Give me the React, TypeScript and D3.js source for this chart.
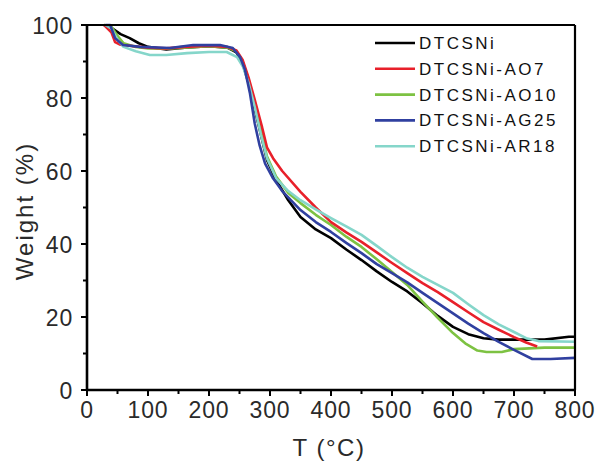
import React from "react";
import * as d3 from "d3";

const seriesNames = ["DTCSNi", "DTCSNi-AO7", "DTCSNi-AO10", "DTCSNi-AG25", "DTCSNi-AR18"];
const seriesColors = ["#000000", "#e8202a", "#7dc242", "#3040a0", "#85d6ca"];

const tBlack = [28, 40, 55, 70, 85, 100, 130, 160, 200, 230, 245, 255, 265, 275, 285, 295, 310, 330, 350, 375, 400, 425, 450, 475, 500, 525, 550, 575, 600, 625, 650, 675, 700, 750, 790, 800];
const wBlack = [100, 99.2, 97.5, 96.4, 95, 94, 93.3, 93.8, 94.2, 93.8, 92.5, 89.5, 84, 77, 70, 63, 57.5, 52, 47.4, 44, 41.6, 38.5, 35.6, 32.5, 29.6, 27, 23.8, 20.3, 17.3, 15.3, 14.2, 13.8, 13.8, 13.8, 14.6, 14.6];

const tRed = [28, 40, 46, 55, 70, 100, 130, 160, 200, 230, 245, 255, 265, 275, 287, 295, 305, 320, 350, 375, 400, 425, 450, 475, 500, 525, 550, 575, 600, 625, 650, 675, 700, 720, 738];
const wRed = [100, 98, 95.3, 94.6, 94.3, 93.8, 93.6, 94, 94.3, 94, 93, 90.5, 85.5, 79.5, 72, 66.5, 63.5, 60, 54.3, 50, 46, 43.2, 40.6, 37.7, 34.8, 32, 29.3, 26.8, 24.1, 21.3, 18.6, 16.5, 14.5, 13, 11.9];

const tGreen = [28, 40, 50, 60, 80, 100, 130, 160, 200, 230, 245, 255, 265, 275, 285, 295, 310, 330, 350, 375, 400, 425, 450, 475, 500, 525, 550, 575, 600, 620, 640, 655, 680, 700, 750, 800];
const wGreen = [100, 99.5, 97, 95, 94, 93.6, 93.5, 93.8, 94.2, 93.8, 92.8, 90, 85, 78, 71, 64, 58.5, 54, 51.2, 48, 45.2, 42, 39.2, 35.8, 32.3, 28.8, 24.2, 19.8, 15.6, 12.8, 10.8, 10.4, 10.4, 11.2, 11.6, 11.6];

const tBlue = [30, 38, 46, 59, 87, 136, 174, 218, 239, 251, 259, 267, 275, 283, 292, 305, 320, 350, 375, 400, 425, 450, 475, 500, 525, 550, 575, 600, 625, 650, 675, 700, 730, 760, 800];
const wBlue = [100, 100, 96.4, 94.5, 94, 93.7, 94.5, 94.5, 93.7, 91.2, 87.7, 81.4, 73, 67, 62, 58, 54.5, 49.3, 46, 43.3, 40.3, 37.5, 34.5, 32, 29.5, 26.6, 23.8, 21, 18.2, 15.6, 13.2, 11, 8.5, 8.5, 8.8];

const tCyan = [30, 40, 50, 60, 80, 103, 130, 164, 200, 229, 246, 256, 265, 275, 285, 295, 310, 330, 350, 375, 400, 425, 450, 475, 500, 525, 550, 575, 600, 625, 650, 675, 700, 720, 740, 800];
const wCyan = [100, 99, 96, 94, 92.8, 91.8, 91.8, 92.3, 92.6, 92.6, 91.2, 88.5, 84, 77.5, 70, 63.5, 58, 54.5, 52, 49.5, 47.1, 44.8, 42.5, 39.5, 36.4, 33.5, 31, 28.8, 26.6, 23.5, 20.5, 18, 15.9, 14.2, 13.4, 13.2];

const seriesT = [tBlack, tRed, tGreen, tBlue, tCyan];
const seriesW = [wBlack, wRed, wGreen, wBlue, wCyan];

const xTicks = [0, 100, 200, 300, 400, 500, 600, 700, 800];
const xMinor = [50, 150, 250, 350, 450, 550, 650, 750];
const yTicks = [0, 20, 40, 60, 80, 100];
const yMinor = [10, 30, 50, 70, 90];

const L = 87, R = 575, T = 25, B = 390;
const FONT = "'Liberation Sans', Arial, sans-serif";

export default function App() {
  const x = d3.scaleLinear().domain([0, 800]).range([L, R]);
  const y = d3.scaleLinear().domain([0, 100]).range([B, T]);
  const line = d3.line<[number, number]>().x((d) => x(d[0])).y((d) => y(d[1]));
  const textColor = "#2a2a2a";

  return (
    <svg width={600} height={461} style={{ position: "absolute", left: 0, top: 0, background: "#fff" }}>
      {[0, 2, 1, 4, 3].map((i) => (
        <path
          key={i}
          d={line(seriesT[i].map((t, k) => [t, seriesW[i][k]] as [number, number])) || ""}
          fill="none"
          stroke={seriesColors[i]}
          strokeWidth={2.6}
          strokeLinejoin="round"
        />
      ))}
      <line x1={L} x2={R} y1={T} y2={T} stroke="#000" strokeWidth={2.2} />
      <line x1={R} x2={R} y1={T} y2={B} stroke="#000" strokeWidth={2.2} />
      <line x1={L} x2={L} y1={T - 1} y2={B + 1} stroke="#000" strokeWidth={2.6} />
      <line x1={L - 1} x2={R + 1} y1={B} y2={B} stroke="#000" strokeWidth={2.6} />
      {xTicks.map((v) => (
        <g key={"xt" + v}>
          <line x1={x(v)} x2={x(v)} y1={B} y2={B + 6} stroke="#000" strokeWidth={2} />
          <text x={x(v)} y={418} textAnchor="middle" fontFamily={FONT} fontSize={23} fill={textColor} letterSpacing={0.8}>
            {v}
          </text>
        </g>
      ))}
      {xMinor.map((v) => (
        <line key={"xm" + v} x1={x(v)} x2={x(v)} y1={B} y2={B + 4} stroke="#000" strokeWidth={2} />
      ))}
      {yTicks.map((v) => (
        <g key={"yt" + v}>
          <line x1={L - 6} x2={L} y1={y(v)} y2={y(v)} stroke="#000" strokeWidth={2} />
          <text x={73} y={y(v) + 8.5} textAnchor="end" fontFamily={FONT} fontSize={23} fill={textColor} letterSpacing={0.8}>
            {v}
          </text>
        </g>
      ))}
      {yMinor.map((v) => (
        <line key={"ym" + v} x1={L - 4} x2={L} y1={y(v)} y2={y(v)} stroke="#000" strokeWidth={2} />
      ))}
      <text x={329} y={456} textAnchor="middle" fontFamily={FONT} fontSize={24} fill={textColor} letterSpacing={1.5}>
        T (°C)
      </text>
      <text
        transform={`translate(33, 211) rotate(-90)`}
        textAnchor="middle"
        fontFamily={FONT}
        fontSize={24}
        fill={textColor}
        letterSpacing={2}
      >
        Weight (%)
      </text>
      {seriesNames.map((name, i) => {
        const ry = 43 + i * 25.8;
        return (
          <g key={name}>
            <line x1={375} x2={415} y1={ry} y2={ry} stroke={seriesColors[i]} strokeWidth={2.6} />
            <text x={419} y={ry + 6} fontFamily={FONT} fontSize={17} fill="#111" letterSpacing={2.5}>
              {name}
            </text>
          </g>
        );
      })}
    </svg>
  );
}
